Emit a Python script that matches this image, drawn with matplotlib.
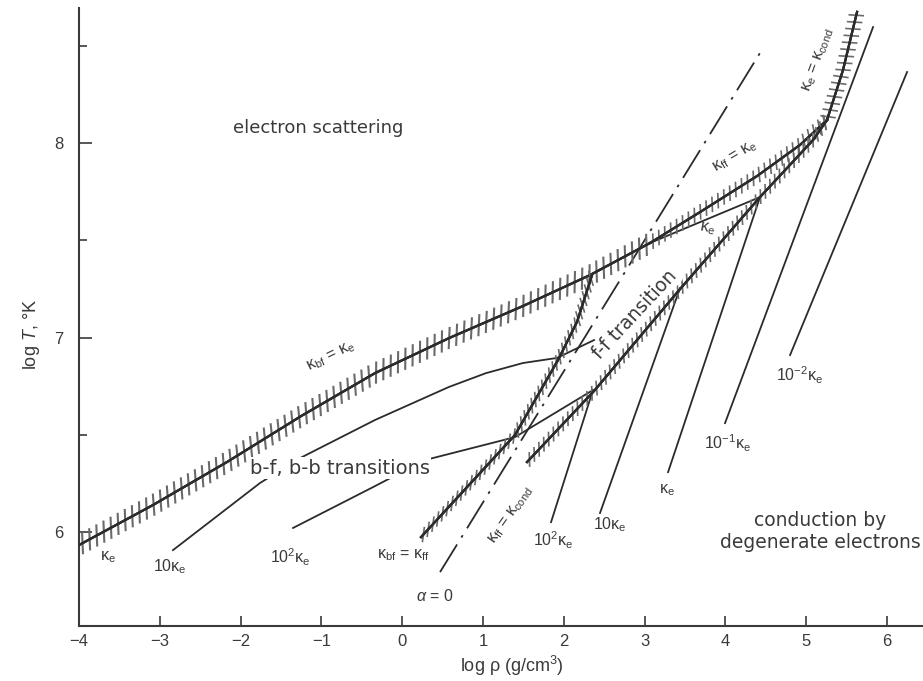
import matplotlib
matplotlib.use("Agg")
import matplotlib.pyplot as plt
from matplotlib import patheffects as pe

plt.rcParams['font.family'] = ['Liberation Sans', 'DejaVu Sans']
plt.rcParams['mathtext.fontset'] = 'custom'
plt.rcParams['mathtext.rm'] = 'Liberation Sans'
plt.rcParams['mathtext.it'] = 'Liberation Sans:italic'
plt.rcParams['mathtext.bf'] = 'Liberation Sans:bold'

# ---------------- data (log rho, log T) ----------------
x_ticks = [-4, -3, -2, -1, 0, 1, 2, 3, 4, 5, 6]
y_ticks = [6, 7, 8]
y_minor_ticks = [6.5, 7.5, 8.5]
x_limits = [-4.0, 6.445]
y_limits = [5.517, 8.694]

# hatched boundaries
bf_e_logrho = [-4.000, -3.084, -2.168, -1.252, -0.337, 0.579, 1.495, 2.324, 3.067]
bf_e_logT = [5.933, 6.139, 6.360, 6.596, 6.817, 6.997, 7.162, 7.321, 7.486]
ff_e_logrho = [3.067, 3.686, 4.391, 4.923, 5.257]
ff_e_logT = [7.486, 7.645, 7.830, 7.990, 8.118]
e_cond_logrho = [5.257, 5.455, 5.629]
e_cond_logT = [8.118, 8.375, 8.674]
ff_cond_logrho = [1.545, 2.374, 3.438, 4.428, 5.084, 5.257]
ff_cond_logT = [6.360, 6.725, 7.249, 7.722, 8.015, 8.118]
bf_ff_logrho = [0.233, 1.396, 1.928, 2.163, 2.349]
bf_ff_logT = [5.974, 6.499, 6.884, 7.080, 7.321]

# alpha = 0 (dash-dot)
alpha0_logrho = [0.468, 4.465]
alpha0_logT = [5.794, 8.488]

# opacity contours
bf_10_logrho = [-2.837, -1.760, -1.265, -0.337, 0.579, 1.037, 1.495, 1.916, 2.374]
bf_10_logT = [5.907, 6.252, 6.380, 6.576, 6.746, 6.817, 6.869, 6.895, 6.987]
bf_100_logrho = [-1.351, -0.361, 0.282, 1.396, 2.361]
bf_100_logT = [6.021, 6.231, 6.370, 6.488, 6.730]
ff_100_logrho = [1.842, 2.361]
ff_100_logT = [6.051, 6.730]
ff_10_logrho = [2.448, 3.438]
ff_10_logT = [6.098, 7.254]
ff_1_logrho = [3.067, 4.428]
ff_1_logT = [7.486, 7.722]
cond_1_logrho = [3.290, 4.428]
cond_1_logT = [6.308, 7.722]
cond_01_logrho = [3.995, 5.827]
cond_01_logT = [6.560, 8.596]
cond_001_logrho = [4.800, 6.248]
cond_001_logT = [6.910, 8.365]

LINE = '#2b2b2b'
HATCH = '#6a6a6a'
TXT = '#3a3a3a'

fig = plt.figure(figsize=(9.23, 6.81), dpi=100)
ax = fig.add_axes([79 / 923, 55 / 681, 844 / 923, 618 / 681])
ax.set_xlim(*x_limits)
ax.set_ylim(*y_limits)


def hatched(x, y, spacing, length, ang, hlw=1.2, lw=1.6, hcolor=HATCH):
    eff = [pe.withTickedStroke(spacing=spacing, angle=ang, length=length,
                               linewidth=hlw, foreground=hcolor),
           pe.withTickedStroke(spacing=spacing, angle=ang - 180, length=length,
                               linewidth=hlw, foreground=hcolor),
           pe.Normal()]
    ax.plot(x, y, color=LINE, lw=lw, path_effects=eff, zorder=3)


hatched(bf_e_logrho, bf_e_logT, 5.8, 1.25, 64, hlw=1.5)
hatched(ff_e_logrho, ff_e_logT, 5.0, 1.0, 60, hlw=1.2)
hatched(e_cond_logrho, e_cond_logT, 5.0, 1.0, 100, hlw=1.2)
hatched(ff_cond_logrho, ff_cond_logT, 5.0, 0.95, 45, hlw=1.2)
hatched(bf_ff_logrho, bf_ff_logT, 5.0, 1.0, 35, hlw=1.2)

ax.plot(alpha0_logrho, alpha0_logT, color=LINE, lw=1.3,
        dashes=(18, 4.5, 1.5, 4.5), zorder=2)

for xs, ys in [(bf_10_logrho, bf_10_logT), (bf_100_logrho, bf_100_logT),
               (ff_100_logrho, ff_100_logT), (ff_10_logrho, ff_10_logT),
               (ff_1_logrho, ff_1_logT), (cond_1_logrho, cond_1_logT),
               (cond_01_logrho, cond_01_logT), (cond_001_logrho, cond_001_logT)]:
    ax.plot(xs, ys, color=LINE, lw=1.3, zorder=2)

# ---------------- text ----------------
reg = dict(family=['DejaVu Sans'], color=TXT, ha='center', va='center')
white = dict(facecolor='white', edgecolor='none', pad=1.0)
ax.text(-1.042, 8.077, 'electron scattering', fontsize=13, **reg)
ax.text(-0.770, 6.329, 'b-f, b-b transitions', fontsize=14, bbox=white, zorder=4, **reg)
ax.text(2.881, 7.116, 'f-f transition', fontsize=13.5, rotation=47, bbox=white, zorder=4, **reg)
ax.text(5.171, 6.005, 'conduction by\ndegenerate electrons', fontsize=13.5,
        linespacing=1.2, **reg)

lab = dict(fontsize=11.5, color=TXT, ha='center', va='center')
ax.text(-0.881, 6.900, r'κ$_{\rm bf}$ = κ$_{\rm e}$', rotation=26, **lab)
ax.text(4.119, 7.928, r'κ$_{\rm ff}$ = κ$_{\rm e}$', rotation=31, **lab)
ax.text(5.146, 8.427, r'κ$_{\rm e}$ = κ$_{\rm cond}$', rotation=70, **lab)
ax.text(1.347, 6.087, r'κ$_{\rm ff}$ = κ$_{\rm cond}$', rotation=55, **lab)
ax.text(0.010, 5.882, r'κ$_{\rm bf}$ = κ$_{\rm ff}$', **lab)
ax.text(0.406, 5.671, r'$\alpha$ = 0', **lab)
ax.text(-3.640, 5.870, r'κ$_{\rm e}$', **lab)
ax.text(-2.874, 5.820, r'10κ$_{\rm e}$', **lab)
ax.text(-1.389, 5.870, r'10$^2$κ$_{\rm e}$', **lab)
ax.text(1.866, 5.959, r'10$^2$κ$_{\rm e}$', **lab)
ax.text(2.572, 6.036, r'10κ$_{\rm e}$', **lab)
ax.text(3.277, 6.216, r'κ$_{\rm e}$', **lab)
ax.text(3.78, 7.56, r'κ$_{\rm e}$', rotation=-10, **lab)
ax.text(4.020, 6.458, r'10$^{-1}$κ$_{\rm e}$', **lab)
ax.text(4.923, 6.807, r'10$^{-2}$κ$_{\rm e}$', **lab)

# ---------------- axes styling ----------------
for s in ['top', 'right']:
    ax.spines[s].set_visible(False)
for s in ['left', 'bottom']:
    ax.spines[s].set_color('#3a3a3a')
    ax.spines[s].set_linewidth(1.5)

ax.set_xticks(x_ticks)
ax.set_yticks(y_ticks)
ax.set_yticks(y_minor_ticks, minor=True)
ax.tick_params(axis='x', direction='in', length=7, width=1.2, colors='#3a3a3a',
               labelsize=12, pad=6, labelcolor=TXT)
ax.tick_params(axis='y', which='major', direction='in', length=9, width=1.2,
               colors='#3a3a3a', labelsize=12, pad=11, labelcolor=TXT)
ax.tick_params(axis='y', which='minor', direction='in', length=6, width=1.2,
               colors='#3a3a3a')

ax.set_xlabel(r'log ρ (g/cm$^3$)', fontsize=13, color=TXT)
ax.xaxis.set_label_coords(0.513, -0.045)
ax.set_ylabel(r'log $T$, °K', fontsize=13, color=TXT)
ax.yaxis.set_label_coords(-0.044, 0.471)

fig.savefig('out.png', dpi=100, facecolor='white')
